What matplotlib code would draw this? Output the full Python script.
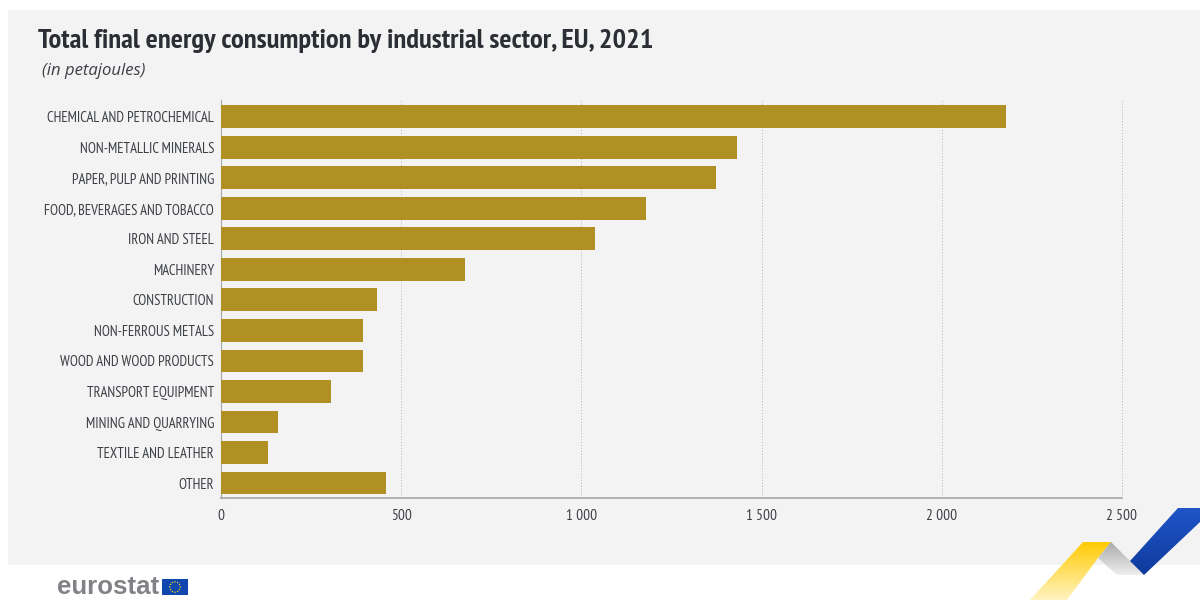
import numpy as np
import matplotlib
matplotlib.use('Agg')
import matplotlib.pyplot as plt
from matplotlib import font_manager as fm
from matplotlib.patches import Polygon, Rectangle, Circle
from matplotlib.ticker import FuncFormatter

sectors = ['CHEMICAL AND PETROCHEMICAL', 'NON-METALLIC MINERALS', 'PAPER, PULP AND PRINTING',
           'FOOD, BEVERAGES AND TOBACCO', 'IRON AND STEEL', 'MACHINERY', 'CONSTRUCTION',
           'NON-FERROUS METALS', 'WOOD AND WOOD PRODUCTS', 'TRANSPORT EQUIPMENT',
           'MINING AND QUARRYING', 'TEXTILE AND LEATHER', 'OTHER']
petajoules = [2178, 1432, 1373, 1179, 1038, 677, 433, 394, 394, 305, 158, 130, 458]
x_ticks = [0, 500, 1000, 1500, 2000, 2500]

W, H = 1200, 601
TEXT = '#3c3f45'

# narrow face if there is one, otherwise a plain sans at a smaller size
installed = {f.name for f in fm.fontManager.ttflist}
if 'PT Sans Narrow' in installed:
    NARROW, shrink = 'PT Sans Narrow', 1.0
else:
    NARROW, shrink = 'Liberation Sans', 0.72

fig = plt.figure(figsize=(W / 100, H / 100), dpi=100, facecolor='white')

# page layer in pixel coordinates
bg = fig.add_axes([0, 0, 1, 1], zorder=0)
bg.set_xlim(0, W)
bg.set_ylim(H, 0)
bg.axis('off')
bg.add_patch(Rectangle((8, 10), W - 8, 555, fc='#f3f3f3', ec='none'))


def ribbon(pts, start, end, axis):
    # polygon filled with a linear gradient between two colours
    pts = np.array(pts, dtype=float)
    x0, y0 = pts.min(axis=0)
    x1, y1 = pts.max(axis=0)
    c0 = np.array(matplotlib.colors.to_rgba(start))
    c1 = np.array(matplotlib.colors.to_rgba(end))
    t = np.linspace(0, 1, 64)
    ramp = c0 + (c1 - c0) * t[:, None]
    img = ramp[None, :, :] if axis == 'x' else ramp[:, None, :]
    im = bg.imshow(img, extent=(x0, x1, y1, y0), aspect='auto', interpolation='bilinear', zorder=2)
    patch = Polygon(pts, closed=True, fc='none', ec='none', transform=bg.transData)
    bg.add_patch(patch)
    im.set_clip_path(patch)


ribbon([(1083, 542), (1111, 542), (1098, 558), (1067, 600), (1030, 600)], '#ffcb05', '#fff3c0', 'y')
ribbon([(1111, 542), (1130, 561), (1144, 575), (1117, 575), (1098, 558)], '#a9aaac', '#eeeeee', 'y')
ribbon([(1178, 508), (1200, 508), (1200, 522), (1144, 575), (1130, 561)], '#1f55c8', '#0f3a9c', 'y')
bg.set_xlim(0, W)
bg.set_ylim(H, 0)

# eurostat logo
bg.text(57, 587, 'eurostat', fontsize=18.6, fontweight='bold', color='#808285',
        family='Liberation Sans', va='center', ha='left')
bg.add_patch(Rectangle((162, 579), 26, 16, fc='#0f47af', ec='none', zorder=3))
for a in np.arange(0, 360, 30):
    bg.add_patch(Circle((175 + 5.2 * np.cos(np.radians(a)), 587 + 5.2 * np.sin(np.radians(a))),
                        0.7, fc='#ffd617', ec='none', zorder=4))

# headings
bg.text(38, 41, 'Total final energy consumption by industrial sector, EU, 2021',
        fontsize=20.5 * shrink, fontweight='bold', color='#2b2e34', family=NARROW,
        va='center', ha='left')
bg.text(42, 71, '(in petajoules)', fontsize=12, style='italic', color=TEXT,
        family='Open Sans', va='center', ha='left')

# bar chart, axes placed so 0-2500 spans x 221-1122
ax = fig.add_axes([221 / W, 1 - 498 / H, (1122 - 221) / W, (498 - 100) / H], zorder=1)
ax.patch.set_alpha(0)
positions = np.arange(len(sectors))
ax.barh(positions, petajoules, height=0.75, color='#b09022', zorder=3)
ax.set_xlim(0, 2500)
ax.set_ylim(12.49, -0.55)
ax.set_yticks(positions)
ax.set_yticklabels(sectors, family=NARROW, fontsize=10.5 * shrink, color=TEXT)
ax.set_xticks(x_ticks)
ax.xaxis.set_major_formatter(FuncFormatter(lambda v, p: f'{int(v):,}'.replace(',', ' ')))
ax.tick_params(axis='x', length=0, pad=8, labelsize=11 * shrink, labelcolor=TEXT)
ax.tick_params(axis='y', length=0, pad=5)
for lab in ax.get_xticklabels():
    lab.set_family(NARROW)
ax.grid(axis='x', linestyle=(0, (1, 2)), linewidth=0.7, color='#b5b5b5', zorder=1)
for line in ax.get_xgridlines():
    line.set_clip_on(False)
for side in ['top', 'right']:
    ax.spines[side].set_visible(False)
ax.spines['left'].set_color('#a8a8a8')
ax.spines['bottom'].set_color('#a8a8a8')
ax.spines['bottom'].set_linewidth(1.2)

fig.savefig('out.png', dpi=100)
